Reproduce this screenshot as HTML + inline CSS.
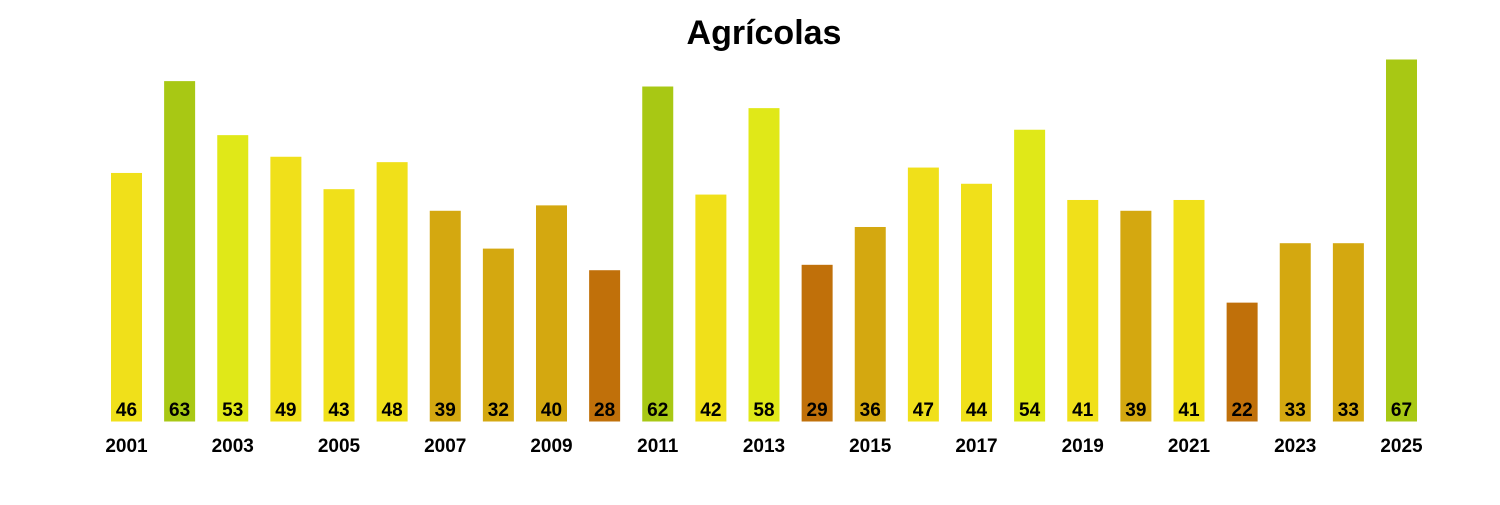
<!DOCTYPE html>
<html><head><meta charset="utf-8"><style>
html,body{margin:0;padding:0;background:#fff;}
svg text{font-family:"Liberation Sans",Arial,sans-serif;font-weight:bold;}
</style></head><body>
<svg width="1500" height="500" xmlns="http://www.w3.org/2000/svg">
<rect width="1500" height="500" fill="#fff"/>
<text x="764" y="44" font-size="34" text-anchor="middle">Agrícolas</text>
<g id="bars"></g>
</svg>
<script>
var v=[46,63,53,49,43,48,39,32,40,28,62,42,58,29,36,47,44,54,41,39,41,22,33,33,67];
var g=document.getElementById('bars'),s='';
function col(x){if(x>=60)return'#a8c814';if(x>=50)return'#e0e818';if(x>=41)return'#f0e01a';if(x>=30)return'#d4a810';return'#c0700a';}
for(var i=0;i<v.length;i++){
 var x=111+i*53.125,h=v[i]*5.403,y=421.5-h;
 s+='<rect x="'+x+'" y="'+y+'" width="31" height="'+h+'" fill="'+col(v[i])+'"/>';
 s+='<text x="'+(x+15.5)+'" y="416" font-size="19" text-anchor="middle">'+v[i]+'</text>';
 if(i%2==0)s+='<text x="'+(x+15.5)+'" y="452" font-size="19" text-anchor="middle">'+(2001+i)+'</text>';
}
g.innerHTML=s;
</script>
</body></html>
